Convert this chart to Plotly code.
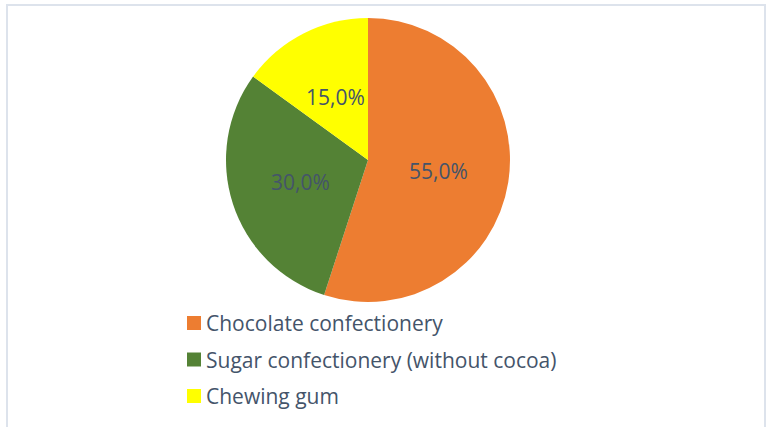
import math
import plotly.graph_objects as go

W, H = 767, 427

labels = ["Chocolate confectionery", "Sugar confectionery (without cocoa)", "Chewing gum"]
values = [55.0, 30.0, 15.0]
colors = ["#ED7D31", "#548235", "#FFFF00"]

TEXT = "#44546A"
FONT = "Open Sans"

# pie geometry (pixels)
CX, CY, R = 368, 160, 142

fig = go.Figure()
fig.add_trace(go.Pie(
    labels=labels, values=values, sort=False, direction="clockwise", rotation=0,
    marker=dict(colors=colors, line=dict(width=0)),
    textinfo="none",
    domain=dict(x=[(CX - R) / W, (CX + R) / W], y=[1 - (CY + R) / H, 1 - (CY - R) / H]),
    showlegend=False, hoverinfo="label+percent",
))

# data labels at half radius, on each slice's mid angle
total = sum(values)
cum = 0.0
for v in values:
    mid = (cum + v / 2) / total * 2 * math.pi
    cum += v
    x = CX + 0.5 * R * math.sin(mid)
    y = CY - 0.5 * R * math.cos(mid)
    fig.add_annotation(xref="paper", yref="paper", x=x / W, y=1 - y / H,
                       text=f"{v / total * 100:.1f}%".replace(".", ","),
                       showarrow=False, xanchor="center", yanchor="middle",
                       font=dict(family=FONT, size=21, color=TEXT))

# manual legend built from the data lists
y0, dy = 323, 36.5
for i, (lab, col) in enumerate(zip(labels, colors)):
    yc = y0 + i * dy
    fig.add_shape(type="rect", xref="paper", yref="paper",
                  x0=187 / W, x1=201 / W, y0=1 - (yc + 7) / H, y1=1 - (yc - 7) / H,
                  fillcolor=col, line=dict(width=0))
    fig.add_annotation(xref="paper", yref="paper", x=204 / W, y=1 - yc / H,
                       text=lab, showarrow=False, xanchor="left", yanchor="middle",
                       font=dict(family=FONT, size=21, color=TEXT))

# chart frame
fig.add_shape(type="rect", xref="paper", yref="paper",
              x0=7 / W, x1=765 / W, y0=1 - 432 / H, y1=1 - 5 / H,
              line=dict(color="#DDE3EC", width=2), fillcolor="rgba(0,0,0,0)")

fig.update_layout(
    width=W, height=H, margin=dict(l=0, r=0, t=0, b=0),
    paper_bgcolor="white", plot_bgcolor="white",
    separators=",.", showlegend=False,
)

fig.write_html("out.html", config={"displayModeBar": False},
               post_script="document.body.style.margin='0';")
